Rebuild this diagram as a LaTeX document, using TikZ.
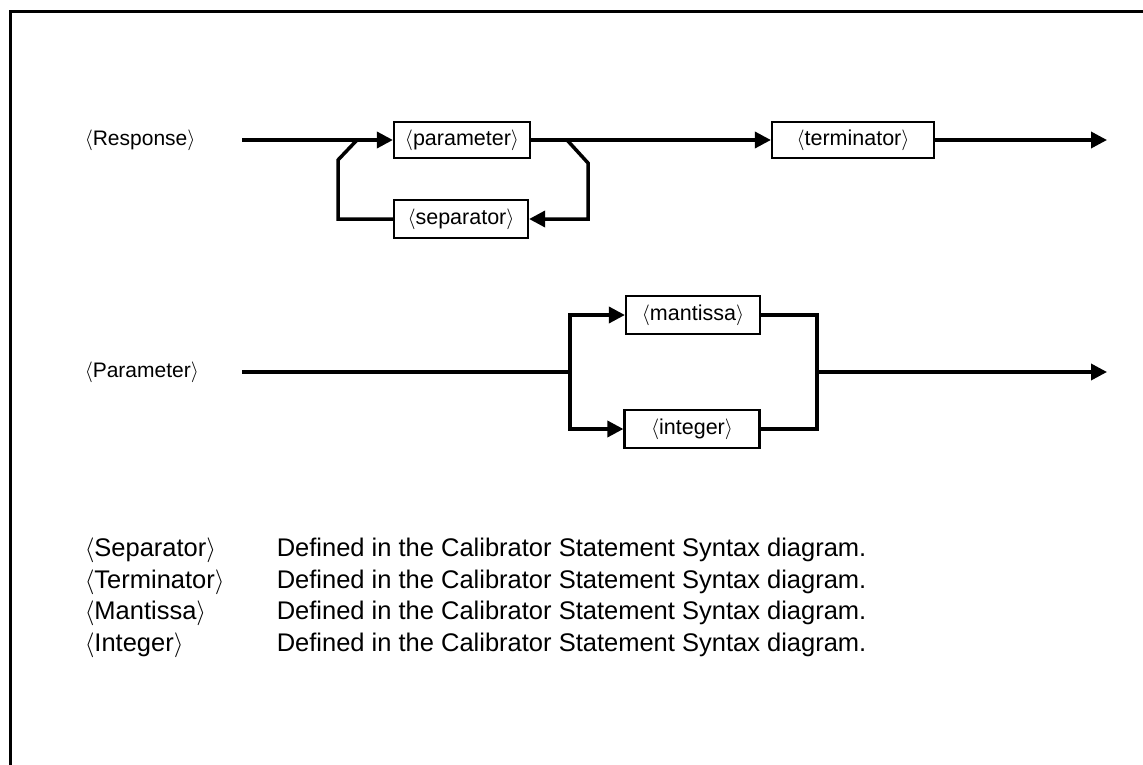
\documentclass[tikz,border=0pt]{standalone}
\usepackage{fontspec}
\setmainfont{Liberation Sans}
\usetikzlibrary{arrows.meta}
\newcommand{\ang}[1]{$\langle$#1$\rangle$}
\begin{document}
\begin{tikzpicture}[x=1pt,y=-1pt, line width=3.5pt,
  box/.style={draw, line width=2.2pt, minimum height=36pt, inner sep=0pt, font=\fontsize{21.5}{24}\selectfont},
  lbl/.style={anchor=west, inner sep=0pt, font=\fontsize{21}{24}\selectfont},
  deftext/.style={anchor=west, inner sep=0pt, font=\fontsize{25.5}{28}\selectfont},
  arr/.style={-{Triangle[length=16pt,width=16pt]}}]
\useasboundingbox (0,0) rectangle (1143,765);
% frame
\coordinate (fb) at (10,765);
\coordinate (ft) at (10,12);
\coordinate (fr) at (1143,12);
\draw[line width=3pt] (fb) -- (ft) -- (fr);

% Response row
\node[lbl] (resp) at (83,140) {\ang{Response}};
\coordinate (rs) at (242,140);
\node[box, minimum width=136pt] (param) at (462,140) {\ang{parameter}};
\node[box, minimum width=134pt, minimum height=38pt] (sep) at (461,219) {\ang{separator}};
\node[box, minimum width=162pt] (term) at (853,140) {\ang{terminator}};
\coordinate (re) at (1107,140);
\coordinate (jl) at (357,140);
\coordinate (jr) at (567,140);
\draw[arr] (rs) -- (param.west);
\draw (sep.west) -- (338,219) -- (338,160) -- (jl);
\draw[arr] (jr) -- (588,163) -- (588,219) -- (sep.east);
\draw[arr] (param.east) -- (term.west);
\draw[arr] (term.east) -- (re);

% Parameter row
\node[lbl] (par) at (83,372) {\ang{Parameter}};
\coordinate (ps) at (242,372);
\coordinate (bl) at (570,372);
\node[box, minimum width=134pt, minimum height=38pt] (mant) at (693,315) {\ang{mantissa}};
\node[box, minimum width=135pt, minimum height=38pt] (int) at (692,429) {\ang{integer}};
\coordinate (br) at (817,372);
\coordinate (pe) at (1107,372);
\draw (ps) -- (bl);
\draw[arr] (bl) -- (570,315) -- (mant.west);
\draw[arr] (bl) -- (570,429) -- (int.west);
\draw (mant.east) -- (817,315) -- (817,429) -- (int.east);
\draw[arr] (br) -- (pe);

% Definitions
\node[deftext] (d1l) at (83,550) {\ang{Separator}};
\node[deftext] (d1r) at (275,550) {Defined in the Calibrator Statement Syntax diagram.};
\node[deftext] (d2l) at (83,582) {\ang{Terminator}};
\node[deftext] (d2r) at (275,582) {Defined in the Calibrator Statement Syntax diagram.};
\node[deftext] (d3l) at (83,613) {\ang{Mantissa}};
\node[deftext] (d3r) at (275,613) {Defined in the Calibrator Statement Syntax diagram.};
\node[deftext] (d4l) at (83,645) {\ang{Integer}};
\node[deftext] (d4r) at (275,645) {Defined in the Calibrator Statement Syntax diagram.};
\end{tikzpicture}
\end{document}
